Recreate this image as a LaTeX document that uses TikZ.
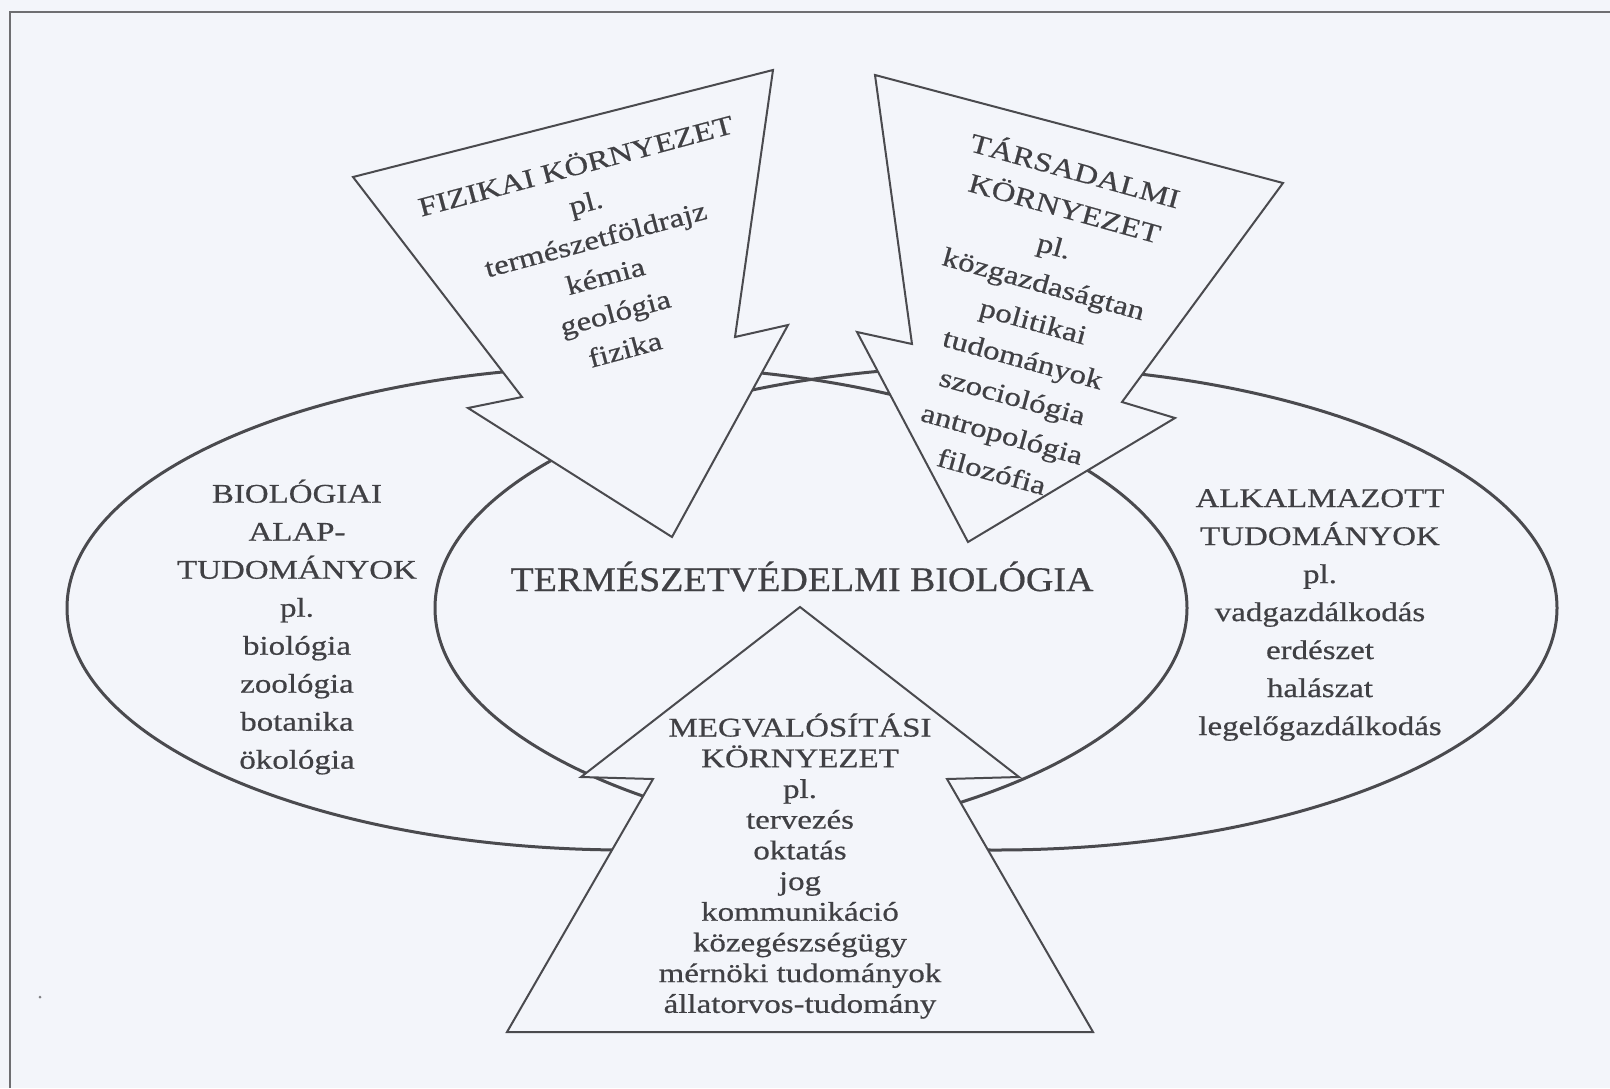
\documentclass[tikz,border=0pt]{standalone}
\usepackage{fontspec}
\setmainfont{Liberation Serif}[FakeStretch=1.22,FakeBold=0.6]
\newfontfamily\titlefont{Liberation Serif}[FakeStretch=1.1,FakeBold=0.6]
\definecolor{bgc}{HTML}{F3F5FA}
\definecolor{linec}{HTML}{4A4A4E}
\definecolor{txtc}{HTML}{404044}
\begin{document}
\begin{tikzpicture}[x=1pt,y=-1pt,
  ell/.style={draw=linec, line width=3pt},
  arr/.style={draw=linec, line width=2pt, fill=bgc, line join=miter},
  txt/.style={text=txtc, align=center, inner sep=0pt, font=\fontsize{27}{38}\selectfont},
  frame/.style={draw=linec!80, line width=2pt}]
\useasboundingbox (0,0) rectangle (1610,1088);
\fill[bgc] (0,0) rectangle (1610,1088);
% frame
\draw[frame] (10,1088) -- (10,12) -- (1610,12);
\fill[linec!70] (40,997) circle (1.5);
% ellipses
\draw[ell] (627,608) ellipse [x radius=560, y radius=242];
\draw[ell] (996,608) ellipse [x radius=561, y radius=242];
% arrows
\draw[arr] (353,177) -- (773,70) -- (735,337) -- (788,325) -- (672,537) -- (468,408) -- (522,397) -- cycle;
\draw[arr] (875,75) -- (1283,183) -- (1122,402) -- (1175,418) -- (968,542) -- (857,332) -- (912,344) -- cycle;
\draw[arr] (800,607) -- (1019,777) -- (947,779) -- (1093,1032) -- (507,1032) -- (653,779) -- (581,777) -- cycle;
% texts
\node[txt, rotate=15] (fiz) at (600,256) {FIZIKAI KÖRNYEZET\\pl.\\természetföldrajz\\kémia\\geológia\\fizika};
\node[txt, rotate=-15.5, font=\fontsize{27}{39}\selectfont] (tars) at (1034,319) {TÁRSADALMI\\KÖRNYEZET\\pl.\\közgazdaságtan\\politikai\\tudományok\\szociológia\\antropológia\\filozófia};
\node[txt] (bio) at (297,627) {BIOLÓGIAI\\ALAP-\\TUDOMÁNYOK\\pl.\\biológia\\zoológia\\botanika\\ökológia};
\node[txt] (alk) at (1320,615) {ALKALMAZOTT\\TUDOMÁNYOK\\pl.\\vadgazdálkodás\\erdészet\\halászat\\legelőgazdálkodás};
\node[txt, font=\fontsize{27}{30.7}\selectfont] (megv) at (800,866) {MEGVALÓSÍTÁSI\\KÖRNYEZET\\pl.\\tervezés\\oktatás\\jog\\kommunikáció\\közegészségügy\\mérnöki tudományok\\állatorvos-tudomány};
\node[text=txtc, inner sep=0pt, anchor=base, font=\titlefont\fontsize{34.5}{40}\selectfont] (title) at (802,591) {TERMÉSZETVÉDELMI BIOLÓGIA};
\end{tikzpicture}
\end{document}
